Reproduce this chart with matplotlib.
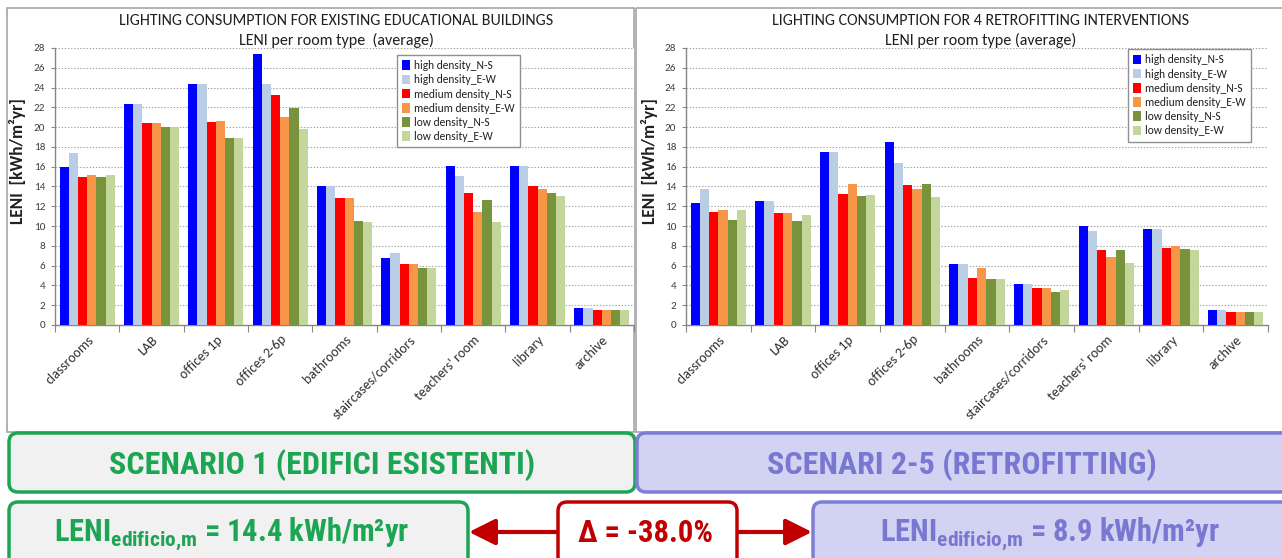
import matplotlib
matplotlib.use('Agg')
import matplotlib.pyplot as plt
from matplotlib import font_manager
from matplotlib.patches import FancyBboxPatch, Rectangle, FancyArrowPatch
import numpy as np

# ---------------- data ----------------
categories = ['classrooms', 'LAB', 'offices 1p', 'offices 2-6p', 'bathrooms',
              'staircases/corridors', "teachers' room", 'library', 'archive']
series_names = ['high density_N-S', 'high density_E-W', 'medium density_N-S',
                'medium density_E-W', 'low density_N-S', 'low density_E-W']
series_colors = ['#0000FF', '#B9CDE5', '#FF0000', '#F79646', '#77933C', '#C3D69B']
yticks = list(range(0, 29, 2))

# Existing buildings (scenario 1)
ex_high_ns = [16.0, 22.3, 24.4, 27.4, 14.0, 6.8, 16.1, 16.1, 1.7]
ex_high_ew = [17.4, 22.3, 24.4, 24.4, 14.0, 7.3, 15.1, 16.1, 1.7]
ex_med_ns = [15.0, 20.4, 20.5, 23.2, 12.8, 6.2, 13.3, 14.0, 1.5]
ex_med_ew = [15.2, 20.4, 20.6, 21.0, 12.8, 6.2, 11.4, 13.7, 1.5]
ex_low_ns = [15.0, 20.0, 18.9, 21.9, 10.5, 5.8, 12.6, 13.3, 1.5]
ex_low_ew = [15.2, 20.0, 18.9, 19.8, 10.4, 5.8, 10.4, 13.0, 1.5]

# Retrofitting (scenarios 2-5)
re_high_ns = [12.3, 12.5, 17.5, 18.5, 6.2, 4.1, 10.0, 9.7, 1.5]
re_high_ew = [13.7, 12.5, 17.5, 16.4, 6.2, 4.1, 9.5, 9.7, 1.5]
re_med_ns = [11.4, 11.3, 13.2, 14.2, 4.8, 3.7, 7.6, 7.8, 1.3]
re_med_ew = [11.6, 11.3, 14.3, 13.7, 5.8, 3.7, 6.9, 8.0, 1.3]
re_low_ns = [10.6, 10.5, 13.0, 14.3, 4.6, 3.3, 7.6, 7.7, 1.3]
re_low_ew = [11.6, 11.1, 13.1, 12.9, 4.7, 3.5, 6.3, 7.6, 1.3]

existing = [ex_high_ns, ex_high_ew, ex_med_ns, ex_med_ew, ex_low_ns, ex_low_ew]
retrofit = [re_high_ns, re_high_ew, re_med_ns, re_med_ew, re_low_ns, re_low_ew]

leni_existing = 14.4
leni_retrofit = 8.9
delta_pct = -38.0

# ---------------- fonts ----------------
available = {f.name for f in font_manager.fontManager.ttflist}
def pick(*names):
    for n in names:
        if n in available:
            return n
    return 'DejaVu Sans'

chart_font = pick('Carlito', 'Lato', 'Open Sans', 'DejaVu Sans')
box_font = pick('Liberation Sans Narrow', 'Roboto Condensed', 'Liberation Sans', 'DejaVu Sans')

plt.rcParams['font.family'] = [chart_font, 'DejaVu Sans']
plt.rcParams['mathtext.fontset'] = 'custom'
plt.rcParams['mathtext.rm'] = box_font + ':bold'
plt.rcParams['mathtext.it'] = box_font + ':bold'
plt.rcParams['mathtext.bf'] = box_font + ':bold'

W, H = 1282, 558
fig = plt.figure(figsize=(W / 100, H / 100), dpi=100)
fig.patch.set_facecolor('white')

# background overlay in pixel coordinates
bg = fig.add_axes([0, 0, 1, 1], zorder=0)
bg.set_xlim(0, W)
bg.set_ylim(H, 0)
bg.axis('off')

# panel frames
bg.add_patch(Rectangle((7, 8), 627, 424, fill=False, ec='#a6a6a6', lw=1.2))
bg.add_patch(Rectangle((636, 8), 660, 424, fill=False, ec='#a6a6a6', lw=1.2))


def make_chart(left_px, right_px, data, title1, title2, tx, leg_anchor):
    top_px, bot_px = 48, 325
    ax = fig.add_axes([left_px / W, (H - bot_px) / H, (right_px - left_px) / W,
                       (bot_px - top_px) / H], zorder=2)
    n = len(categories)
    gw = 0.86
    w = gw / len(data)
    x0 = np.arange(n) + 0.07
    for j, (vals, c, name) in enumerate(zip(data, series_colors, series_names)):
        ax.bar(x0 + j * w, vals, width=w, align='edge', color=c, label=name,
               zorder=3, linewidth=0)
    ax.set_xlim(0, n)
    ax.set_ylim(0, 28)
    ax.set_yticks(yticks)
    ax.set_yticklabels([str(t) for t in yticks], fontsize=8, color='#404040')
    ax.set_xticks(np.arange(n + 1))
    ax.set_xticklabels([])
    ax.set_xticks(np.arange(n) + 0.5, minor=True)
    ax.set_xticklabels(categories, minor=True, rotation=45, ha='right',
                       rotation_mode='anchor', fontsize=10, color='#303030')
    ax.tick_params(axis='x', which='major', length=5, direction='out', color='#868686')
    ax.tick_params(axis='x', which='minor', length=0, pad=6)
    ax.tick_params(axis='y', length=3, direction='out', color='#868686', pad=4)
    ax.yaxis.grid(True, linestyle=(0, (1.2, 1.6)), color='#a0a0a0', lw=0.8, zorder=0)
    ax.set_axisbelow(True)
    for s in ['top', 'right']:
        ax.spines[s].set_visible(False)
    for s in ['left', 'bottom']:
        ax.spines[s].set_color('#868686')
        ax.spines[s].set_linewidth(1.0)
    bg.text(left_px - 37, 161, 'LENI  [kWh/m²yr]', fontsize=12.5, fontweight='bold',
            color='#202020', rotation=90, ha='center', va='center')
    leg = ax.legend(loc='upper left', bbox_to_anchor=leg_anchor, fontsize=8.3,
                    frameon=True, fancybox=False, edgecolor='#909090', framealpha=1,
                    handlelength=0.7, handleheight=0.9, handletextpad=0.35,
                    labelspacing=0.28, borderpad=0.45, borderaxespad=0)
    leg.get_frame().set_linewidth(1.0)
    for t in leg.get_texts():
        t.set_color('#202020')
    bg.text(tx, 21, title1, fontsize=11.5, ha='center', va='center', color='#202020')
    bg.text(tx, 40, title2, fontsize=11.5, ha='center', va='center', color='#202020')
    return ax


make_chart(55, 634, existing,
           'LIGHTING CONSUMPTION FOR EXISTING EDUCATIONAL BUILDINGS',
           'LENI per room type  (average)', 336, (0.591, 0.975))
make_chart(686, 1268, retrofit,
           'LIGHTING CONSUMPTION FOR 4 RETROFITTING INTERVENTIONS',
           'LENI per room type (average)', 981, (0.759, 0.996))

# ---------------- bottom boxes ----------------
green = '#1CA553'
lav_fill = '#D2D2F2'
lav_edge = '#7E7ED6'
lav_text = '#7878D2'
red = '#C00000'


def rbox(x0, y0, x1, y1, fc, ec, lw=2.5, r=9):
    bg.add_patch(FancyBboxPatch((x0 + r, y0 + r), (x1 - x0) - 2 * r, (y1 - y0) - 2 * r,
                                boxstyle=f'round,pad={r}', fc=fc, ec=ec, lw=lw,
                                mutation_aspect=1, clip_on=False))


rbox(9, 433, 635, 492, '#F1F1F1', green)
rbox(637, 433, 1300, 492, lav_fill, lav_edge)
rbox(9, 502, 468, 580, '#F1F1F1', green)
rbox(813, 502, 1300, 580, lav_fill, lav_edge)
rbox(558, 502, 737, 580, 'white', red, lw=2.5)

bfam = [box_font, 'DejaVu Sans']
bg.text(322, 465, 'SCENARIO 1 (EDIFICI ESISTENTI)', fontsize=23, fontweight='bold',
        family=bfam, color=green, ha='center', va='center')
bg.text(962, 465, 'SCENARI 2-5 (RETROFITTING)', fontsize=23, fontweight='bold',
        family=bfam, color=lav_text, ha='center', va='center')

sub = r'LENI$_{\mathrm{edificio{,}m}}$'
bg.text(232, 534, sub + f' = {leni_existing:.1f} kWh/m²yr',
        fontsize=22, fontweight='bold', family=bfam, color=green,
        ha='center', va='center')
bg.text(1050, 534, sub + f' = {leni_retrofit:.1f} kWh/m²yr',
        fontsize=22, fontweight='bold', family=bfam, color=lav_text,
        ha='center', va='center')
bg.text(645, 533, f'Δ = {delta_pct:.1f}%', fontsize=22, fontweight='bold',
        family=bfam, color=red, ha='center', va='center')

for xa, xb in [(557, 469), (738, 812)]:
    bg.add_patch(FancyArrowPatch((xa, 532), (xb, 532),
                                 arrowstyle='-|>,head_length=16,head_width=8',
                                 mutation_scale=1, color=red, lw=3,
                                 shrinkA=0, shrinkB=0))

fig.savefig('out.png', dpi=100, facecolor='white')
